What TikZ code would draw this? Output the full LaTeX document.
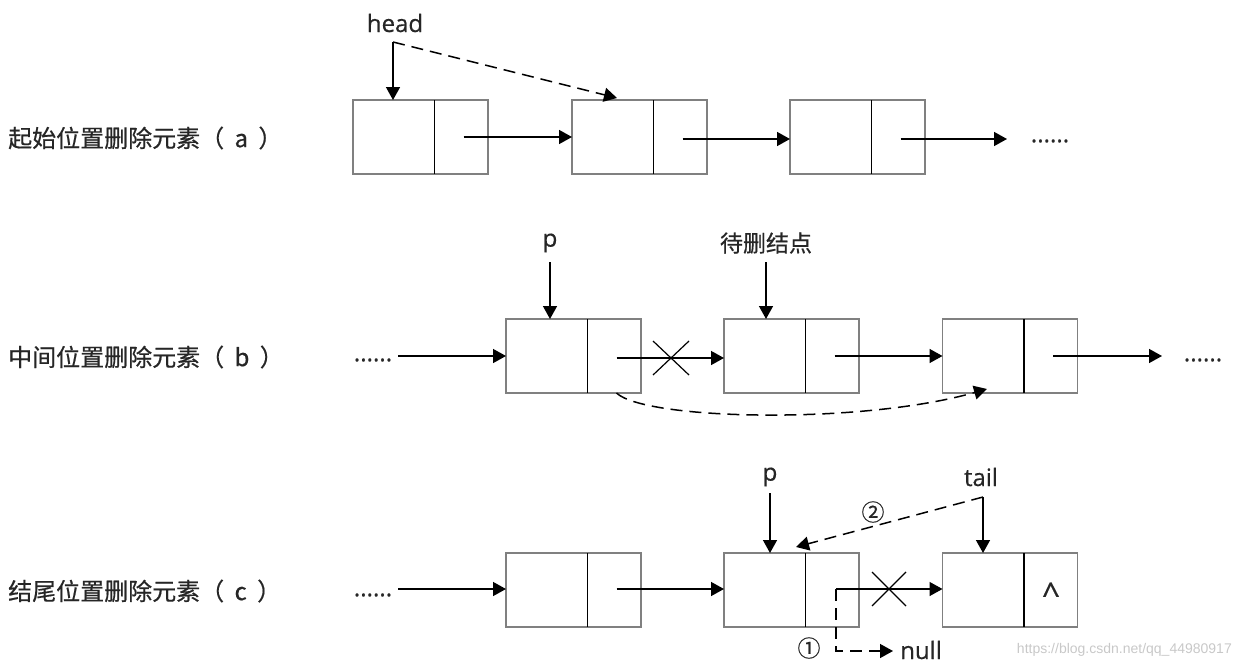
\documentclass[tikz,border=0pt]{standalone}
\usepackage{fontspec}
\setmainfont{Open Sans}[FakeBold=0.5]
\newfontfamily\cjk{Noto Sans CJK SC}[FakeBold=0.6]
\newfontfamily\wmfont{Liberation Sans}
\usetikzlibrary{arrows.meta,calc}
\definecolor{boxgray}{HTML}{808080}
\definecolor{txt}{HTML}{262626}
\definecolor{wm}{HTML}{C8C8C8}
\tikzset{
  cell/.style={draw=boxgray, line width=1.6pt, minimum width=135pt, minimum height=74pt, inner sep=0pt, outer sep=0pt, fill=white},
  lbl/.style={text=txt, font=\fontsize{24}{28}\selectfont, inner sep=0pt},
  clbl/.style={text=txt, font=\cjk\fontsize{23}{27}\selectfont, inner sep=0pt},
  side/.style={text=txt, font=\cjk\fontsize{24}{28}\selectfont, inner sep=0pt, anchor=west},
  ptr/.style={line width=1.5pt, -{Triangle[length=13pt,width=14pt]}},
  dptr/.style={line width=1.5pt, dash pattern=on 12pt off 7pt, -{Triangle[length=13pt,width=14pt]}},
  divider/.style={line width=1.6pt, black},
  cross/.style={line width=1.2pt},
}
\newcommand{\listbox}[3]{%
  \node[cell] (#1) at (#2,#3) {};
  \draw[divider] ($(#1.north west)+(81.5,0)$) -- ($(#1.south west)+(81.5,0)$);
  \coordinate (#1p) at ($(#1.center)+(43,0)$);
}
\newcommand{\sidelabel}[2]{#1（\hspace{5pt} #2 \hspace{5pt}）}
\begin{document}
\begin{tikzpicture}[x=1pt,y=-1pt]
\useasboundingbox (0,0) rectangle (1238,670);
% ---------- row a ----------
\node[side] (la) at (8,138) {\sidelabel{起始位置删除元素}{a}};
\listbox{a1}{420.5}{137}
\listbox{a2}{639.5}{137}
\listbox{a3}{857.5}{137}
\coordinate (a3end) at (1007,139);
\node[lbl] (adots) at (1050,141) {......};
\draw[ptr] (a1p |- 0,137) -- (a2.west);
\draw[ptr] ($(a2p)+(0,2)$) -- (a3.west |- 0,139);
\draw[ptr] ($(a3p)+(0,2)$) -- (a3end);
\node[lbl] (head) at (395,23) {head};
\coordinate (hd) at (393,42);
\draw[ptr] (hd) -- (hd |- a1.north);
\draw[dptr] (hd) -- (617,98);
% ---------- row b ----------
\node[side] (lb) at (8,357) {\sidelabel{中间位置删除元素}{b}};
\listbox{b1}{573.5}{356}
\listbox{b2}{791.5}{356}
\listbox{b3}{1010}{356}
\node[lbl] (bdots1) at (373,360) {......};
\node[lbl] (bdots2) at (1203,360) {......};
\coordinate (bs) at (398,356);
\coordinate (be) at (1162,356);
\draw[ptr] (bs) -- (b1.west);
\draw[ptr] ($(b1p)+(0,2)$) -- (b2.west |- 0,358);
\draw[cross] (653,341) -- (689,375) (653,375) -- (689,341);
\draw[ptr] (b2p) -- (b3.west);
\draw[ptr] (b3p) -- (be);
\node[lbl] (pb) at (550,243) {p};
\coordinate (pbs) at (550,262);
\draw[ptr] (pbs) -- (pbs |- b1.north);
\node[clbl] (del) at (766,243) {待删结点};
\coordinate (dels) at (766,262);
\draw[ptr] (dels) -- (dels |- b2.north);
\draw[dptr] (b1p |- b1.south) .. controls (645,420) and (860,425) .. (987,389);
% ---------- row c ----------
\node[side] (lc) at (8,591) {\sidelabel{结尾位置删除元素}{c}};
\listbox{c1}{573.5}{590}
\listbox{c2}{791.5}{590}
\listbox{c3}{1010}{590}
\node[lbl] (cdots) at (373,595) {......};
\node[text=txt, font=\fontsize{32}{34}\selectfont, inner sep=0pt] (caret) at (1051,594) {\textasciicircum};
\coordinate (cs) at (398,589);
\draw[ptr] (cs) -- (c1.west |- 0,589);
\draw[ptr] (c1p |- 0,589) -- (c2.west |- 0,589);
\coordinate (cp) at (836,589);
\draw[ptr] (cp) -- (c3.west |- 0,589);
\draw[cross] (872,572) -- (906,606) (872,606) -- (906,572);
\coordinate (nullend) at (893,651);
\draw[line width=1.5pt, dash pattern=on 12pt off 7pt] (cp) -- (836,651) -- (870,651);
\draw[ptr] (870,651) -- (nullend);
\node[lbl, anchor=west] (null) at (900,650) {null};
\node[clbl] (one) at (809,648) {①};
\node[lbl] (pc) at (770,477) {p};
\coordinate (pcs) at (770,493);
\draw[ptr] (pcs) -- (pcs |- c2.north);
\node[lbl] (tail) at (981,477) {tail};
\coordinate (tl) at (983,497);
\draw[ptr] (tl) -- (tl |- c3.north);
\draw[dptr] (tl) -- (796,547);
\node[clbl] (two) at (873,512) {②};
\node[text=wm, font=\wmfont\fontsize{14}{16}\selectfont, anchor=east, inner sep=0pt] (wmk) at (1232,650) {https://blog.csdn.net/qq\_44980917};
\end{tikzpicture}
\end{document}
